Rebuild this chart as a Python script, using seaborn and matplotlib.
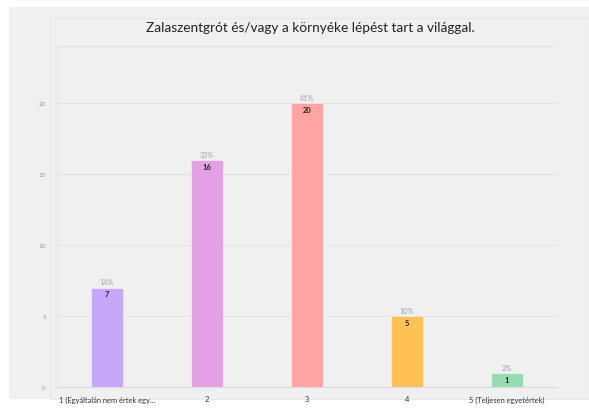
import matplotlib
matplotlib.use("Agg")
import matplotlib.pyplot as plt
from matplotlib.patches import Rectangle
import seaborn as sns
import pandas as pd

title = "Zalaszentgrót és/vagy a környéke lépést tart a világgal."
categories = ["1 (Egyáltalán nem értek egy...", "2", "3", "4", "5 (Teljesen egyetértek)"]
counts = [7, 16, 20, 5, 1]
percents = ["14%", "33%", "41%", "10%", "2%"]
colors = ["#C6A7FA", "#E3A1E3", "#FFA3A3", "#FFC155", "#95DDB0"]

df = pd.DataFrame({"cat": categories, "n": counts})

sns.set_theme(style="white")
plt.rcParams["font.family"] = ["Lato", "DejaVu Sans"]

W, H = 589, 410
fig = plt.figure(figsize=(W / 100, H / 100), dpi=100, facecolor="white")

# grey card behind the chart
fig.patches.append(Rectangle((9 / W, 10 / H), 580 / W, 392 / H, transform=fig.transFigure,
                             facecolor="#f0f0f0", edgecolor="none", zorder=-10))
fig.patches.append(Rectangle((50 / W, 10 / H), 539 / W, 381 / H, transform=fig.transFigure,
                             facecolor="none", edgecolor="#e7e7ec", lw=0.8, zorder=-9))

ax = fig.add_axes([57 / W, 1 - 388 / H, 500 / W, (388 - 47) / H])
ax.set_facecolor("none")

sns.barplot(data=df, x="cat", y="n", hue="cat", palette=colors, legend=False,
            width=0.32, ax=ax, edgecolor=(1, 1, 1, 0.45), linewidth=0.8, saturation=1)

ax.set_ylim(0, 24)
ax.set_xlim(-0.5, 4.5)
ax.set_yticks([0, 5, 10, 15, 20])
ax.grid(axis="y", color="#e3e3e8", lw=0.8)
ax.set_axisbelow(True)
for s in ["top", "right"]:
    ax.spines[s].set_visible(False)
ax.spines["left"].set_color("#e3e3e8")
ax.spines["bottom"].set_color("#dcdce2")
ax.spines["left"].set_linewidth(0.8)
ax.spines["bottom"].set_linewidth(0.8)
ax.axhline(24, color="#e3e3e8", lw=0.8)

ax.tick_params(axis="y", labelsize=4.5, labelcolor="#9a9a9a", length=0, pad=8)
ax.tick_params(axis="x", labelsize=5.4, labelcolor="#333333", length=2, color="#cccccc", pad=4)
ax.set_xlabel("")
ax.set_ylabel("")

for i, (n, p) in enumerate(zip(counts, percents)):
    ax.text(i, n + 0.15, p, ha="center", va="bottom", fontsize=5.2, color="#a0a0a8")
    ax.text(i, n - 0.2, str(n), ha="center", va="top", fontsize=5.4, color="#222222", fontweight="bold")

fig.text(310 / W, 1 - 28 / H, title, ha="center", va="center", fontsize=9.8, color="#222222")

fig.savefig("out.png", dpi=100, facecolor="white")
